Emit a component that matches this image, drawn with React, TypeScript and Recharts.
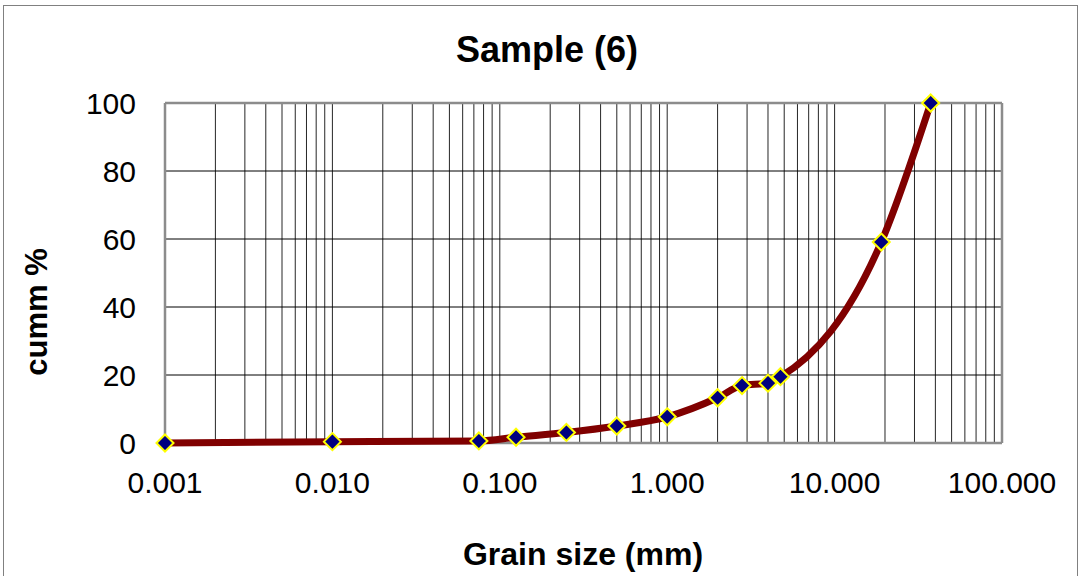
import { LineChart, Line, XAxis, YAxis, ReferenceLine, Label } from "recharts";

const grainSizes = [0.001, 0.01, 0.075, 0.125, 0.25, 0.5, 1, 2, 2.8, 4, 4.75, 19, 37.5];
const cummPercent = [0, 0.4, 0.6, 1.7, 3.1, 5.0, 7.7, 13.3, 16.9, 17.6, 19.5, 59.1, 100];

const xTicks = [0.001, 0.01, 0.1, 1, 10, 100];
const yTicks = [0, 20, 40, 60, 80, 100];
const decades = [0.001, 0.01, 0.1, 1, 10];

const data = grainSizes.map((size, i) => ({ size, cumm: cummPercent[i] }));

// grid lines at 2..9 of each decade plus the decade lines
const minorLines: number[] = [];
decades.forEach((d, i) => {
  if (i > 0) minorLines.push(d);
  for (let k = 2; k <= 9; k++) minorLines.push(d * k);
});

const FONT = "'Liberation Sans', Arial, sans-serif";

const Diamond = (props: any) => {
  const { cx, cy } = props;
  if (cx == null || cy == null) return null;
  const r = 8.5;
  return (
    <polygon
      points={`${cx},${cy - r} ${cx + r},${cy} ${cx},${cy + r} ${cx - r},${cy}`}
      fill="#000080"
      stroke="#ffff00"
      strokeWidth={2}
    />
  );
};

export default function App() {
  return (
    <div style={{ position: "absolute", left: 0, top: 0, width: 1080, height: 576, background: "#fff", overflow: "hidden" }}>
      <div
        style={{
          position: "absolute",
          left: 3,
          top: 5,
          width: 1075,
          height: 580,
          border: "1px solid #808080",
          boxSizing: "border-box",
        }}
      />
      <LineChart width={1080} height={576} data={data} margin={{ top: 103, right: 78, bottom: 73, left: 65 }}>
        {minorLines.map((v) => (
          <ReferenceLine key={`v${v}`} x={v} stroke="#262626" strokeWidth={1} />
        ))}
        {[20, 40, 60, 80].map((v) => (
          <ReferenceLine key={`h${v}`} y={v} stroke="#000" strokeWidth={1} />
        ))}
        <ReferenceLine x={0.001} stroke="#8c8c8c" strokeWidth={2.5} />
        <ReferenceLine x={100} stroke="#8c8c8c" strokeWidth={2.5} />
        <ReferenceLine y={0} stroke="#8c8c8c" strokeWidth={2.5} />
        <ReferenceLine y={100} stroke="#8c8c8c" strokeWidth={2.5} />
        <XAxis
          dataKey="size"
          type="number"
          scale="log"
          domain={[0.001, 100]}
          ticks={xTicks}
          tickFormatter={(v: number) => v.toFixed(3)}
          axisLine={false}
          tickLine={false}
          tickSize={0}
          tickMargin={29}
          height={60}
          tick={{ fill: "#000", fontSize: 30, fontFamily: FONT }}
        >
          <Label
            content={() => (
              <text x={583} y={565} textAnchor="middle" fontSize={32} fontWeight="bold" fontFamily={FONT} fill="#000">
                Grain size (mm)
              </text>
            )}
          />
        </XAxis>
        <YAxis
          type="number"
          domain={[0, 100]}
          ticks={yTicks}
          axisLine={false}
          tickLine={false}
          tickSize={0}
          tickMargin={29}
          width={100}
          tick={{ fill: "#000", fontSize: 30, fontFamily: FONT }}
        >
          <Label
            content={() => (
              <text
                x={47}
                y={312}
                transform="rotate(-90 47 312)"
                textAnchor="middle"
                fontSize={31}
                fontWeight="bold"
                fontFamily={FONT}
                fill="#000"
              >
                cumm %
              </text>
            )}
          />
        </YAxis>
        <Line
          type="monotone"
          dataKey="cumm"
          stroke="#800000"
          strokeWidth={7}
          dot={<Diamond />}
          activeDot={false}
          isAnimationActive={false}
        />
        <text x={547} y={62} textAnchor="middle" fontSize={36} fontWeight="bold" fontFamily={FONT} fill="#000">
          Sample (6)
        </text>
      </LineChart>
    </div>
  );
}
